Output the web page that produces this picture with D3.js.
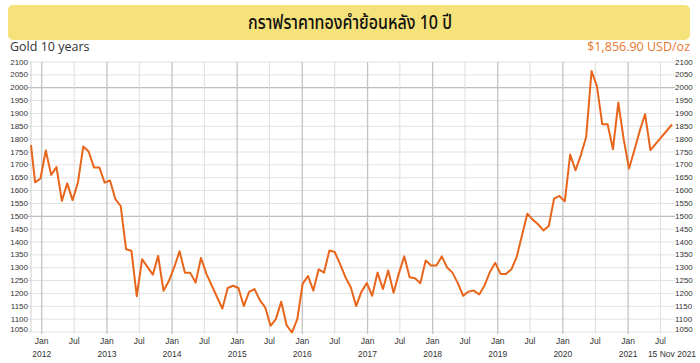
<!DOCTYPE html>
<html>
<head>
<meta charset="utf-8">
<script src="https://cdn.jsdelivr.net/npm/d3@7"></script>
<style>
  html, body { margin: 0; padding: 0; background: #fff; }
  svg { display: block; }
</style>
</head>
<body>
<div id="root"></div>
<script>
const titleText = 'กราฟราคาทองคำย้อนหลัง 10 ปี';
const subtitleText = 'Gold 10 years';
const latestText = '$1,856.90 USD/oz';
const latestDateText = '15 Nov 2021';

// one sample every 30 days; the first one sits on the left edge of the view
const seriesStart = new Date(Date.UTC(2011, 9, 26));
const stepDays = 30;
const goldPrices = [
  1777, 1632, 1647, 1756, 1661, 1691, 1560, 1628, 1563, 1631,
  1771, 1752, 1690, 1690, 1631, 1639, 1567, 1540, 1372, 1366,
  1189, 1333, 1303, 1273, 1346, 1210, 1248, 1302, 1364, 1280,
  1280, 1242, 1338, 1277, 1231, 1186, 1141, 1221, 1230, 1221,
  1151, 1206, 1217, 1174, 1146, 1074, 1100, 1168, 1077, 1048,
  1100, 1237, 1268, 1211, 1294, 1281, 1367, 1361, 1314, 1263,
  1224, 1151, 1207, 1240, 1191, 1281, 1217, 1289, 1203, 1279,
  1344, 1263, 1259, 1240, 1328, 1309, 1309, 1344, 1301, 1281,
  1240, 1191, 1207, 1211, 1196, 1231, 1283, 1319, 1276, 1276,
  1293, 1341, 1426, 1510, 1487, 1469, 1445, 1462, 1569, 1579,
  1558, 1740, 1679, 1738, 1809, 2065, 2006, 1858, 1858, 1761,
  1942, 1800, 1686, 1757, 1832, 1897, 1757
];
// latest quote, pinned to the right edge
const latestDate = new Date(Date.UTC(2021, 10, 15));
const latestPrice = 1856.90;

const viewStart = new Date(Date.UTC(2011, 10, 2));
const viewEnd = new Date(Date.UTC(2021, 8, 4));

const priceTicks = [1050, 1100, 1150, 1200, 1250, 1300, 1350, 1400, 1450, 1500, 1550,
  1600, 1650, 1700, 1750, 1800, 1850, 1900, 1950, 2000, 2050, 2100];
const majorPrices = [1500, 2000];

const width = 700;
const height = 363;
const plot = { left: 31, right: 672, top: 62, bottom: 332 };
const lineColor = '#e8661c';
const labelFont = "'Liberation Sans', Arial, sans-serif";

const points = goldPrices.map((v, i) => ({
  date: d3.utcDay.offset(seriesStart, i * stepDays),
  value: v,
}));
points.push({ date: latestDate, value: latestPrice });

const x = d3.scaleUtc()
  .domain([viewStart, viewEnd])
  .range([plot.left, plot.right])
  .clamp(true);

const y = d3.scaleLinear()
  .domain([1050, 2100])
  .range([plot.bottom, plot.top]);

const svg = d3.select('#root')
  .append('svg')
  .attr('width', width)
  .attr('height', height)
  .attr('viewBox', `0 0 ${width} ${height}`);

// title banner
svg.append('rect')
  .attr('x', 8)
  .attr('y', 5)
  .attr('width', 682)
  .attr('height', 35)
  .attr('rx', 5)
  .attr('fill', '#f6e27a');

// the original uses a condensed thai face, squeeze ours to the same width
svg.append('text')
  .attr('x', width / 2)
  .attr('y', 23)
  .attr('text-anchor', 'middle')
  .attr('dominant-baseline', 'central')
  .attr('font-family', "'Noto Sans Thai', 'Noto Sans', Tahoma, sans-serif")
  .attr('font-size', 20)
  .attr('font-weight', 500)
  .attr('textLength', 204)
  .attr('lengthAdjust', 'spacingAndGlyphs')
  .attr('fill', '#111')
  .text(titleText);

svg.append('text')
  .attr('x', 10)
  .attr('y', 51)
  .attr('font-family', "'Open Sans', sans-serif")
  .attr('font-size', 12.5)
  .attr('fill', '#333')
  .text(subtitleText);

svg.append('text')
  .attr('x', 690)
  .attr('y', 51)
  .attr('text-anchor', 'end')
  .attr('font-family', "'Open Sans', sans-serif")
  .attr('font-size', 12.5)
  .attr('fill', '#e8772e')
  .text(latestText);

// grid
const monthTicks = x.ticks(d3.utcMonth.every(6));
const grid = svg.append('g').attr('class', 'grid');

grid.selectAll('line.h')
  .data(priceTicks)
  .join('line')
  .attr('class', 'h')
  .attr('x1', plot.left - 3)
  .attr('x2', plot.right + 3)
  .attr('y1', d => y(d))
  .attr('y2', d => y(d))
  .attr('stroke', d => majorPrices.includes(d) ? '#bdbdbd' : '#e2e2e2')
  .attr('stroke-width', d => majorPrices.includes(d) ? 1.3 : 1);

grid.selectAll('line.v')
  .data(monthTicks)
  .join('line')
  .attr('class', 'v')
  .attr('x1', d => x(d))
  .attr('x2', d => x(d))
  .attr('y1', plot.top)
  .attr('y2', plot.bottom + 2)
  .attr('stroke', d => d.getUTCMonth() === 0 ? '#c4c4c4' : '#dedede')
  .attr('stroke-width', d => d.getUTCMonth() === 0 ? 1.3 : 1);

grid.append('line')
  .attr('x1', plot.left)
  .attr('x2', plot.left)
  .attr('y1', plot.top)
  .attr('y2', plot.bottom)
  .attr('stroke', '#cfcfcf');

// price labels on both sides
const priceLabelY = d => Math.min(y(d), plot.bottom - 3);

svg.append('g')
  .selectAll('text')
  .data(priceTicks)
  .join('text')
  .attr('x', plot.left - 3)
  .attr('y', priceLabelY)
  .attr('text-anchor', 'end')
  .attr('dominant-baseline', 'central')
  .attr('font-family', labelFont)
  .attr('font-size', 8)
  .attr('fill', '#333')
  .text(d => d);

svg.append('g')
  .selectAll('text')
  .data(priceTicks)
  .join('text')
  .attr('x', plot.right + 3)
  .attr('y', priceLabelY)
  .attr('dominant-baseline', 'central')
  .attr('font-family', labelFont)
  .attr('font-size', 8)
  .attr('fill', '#333')
  .text(d => d);

// month and year labels
const xAxis = svg.append('g');
xAxis.selectAll('text.month')
  .data(monthTicks)
  .join('text')
  .attr('class', 'month')
  .attr('x', d => x(d))
  .attr('y', 341)
  .attr('text-anchor', 'middle')
  .attr('dominant-baseline', 'central')
  .attr('font-family', labelFont)
  .attr('font-size', 8.5)
  .attr('fill', '#333')
  .text(d3.utcFormat('%b'));

xAxis.selectAll('text.year')
  .data(monthTicks.filter(d => d.getUTCMonth() === 0))
  .join('text')
  .attr('class', 'year')
  .attr('x', d => x(d))
  .attr('y', 354)
  .attr('text-anchor', 'middle')
  .attr('dominant-baseline', 'central')
  .attr('font-family', labelFont)
  .attr('font-size', 8.5)
  .attr('fill', '#333')
  .text(d3.utcFormat('%Y'));

xAxis.append('text')
  .attr('x', x(latestDate))
  .attr('y', 354)
  .attr('text-anchor', 'middle')
  .attr('dominant-baseline', 'central')
  .attr('font-family', labelFont)
  .attr('font-size', 8.5)
  .attr('fill', '#333')
  .text(latestDateText);

// price line
const line = d3.line()
  .x(d => x(d.date))
  .y(d => y(d.value));

svg.append('path')
  .datum(points)
  .attr('fill', 'none')
  .attr('stroke', lineColor)
  .attr('stroke-width', 2)
  .attr('stroke-linejoin', 'round')
  .attr('d', line);
</script>
</body>
</html>
